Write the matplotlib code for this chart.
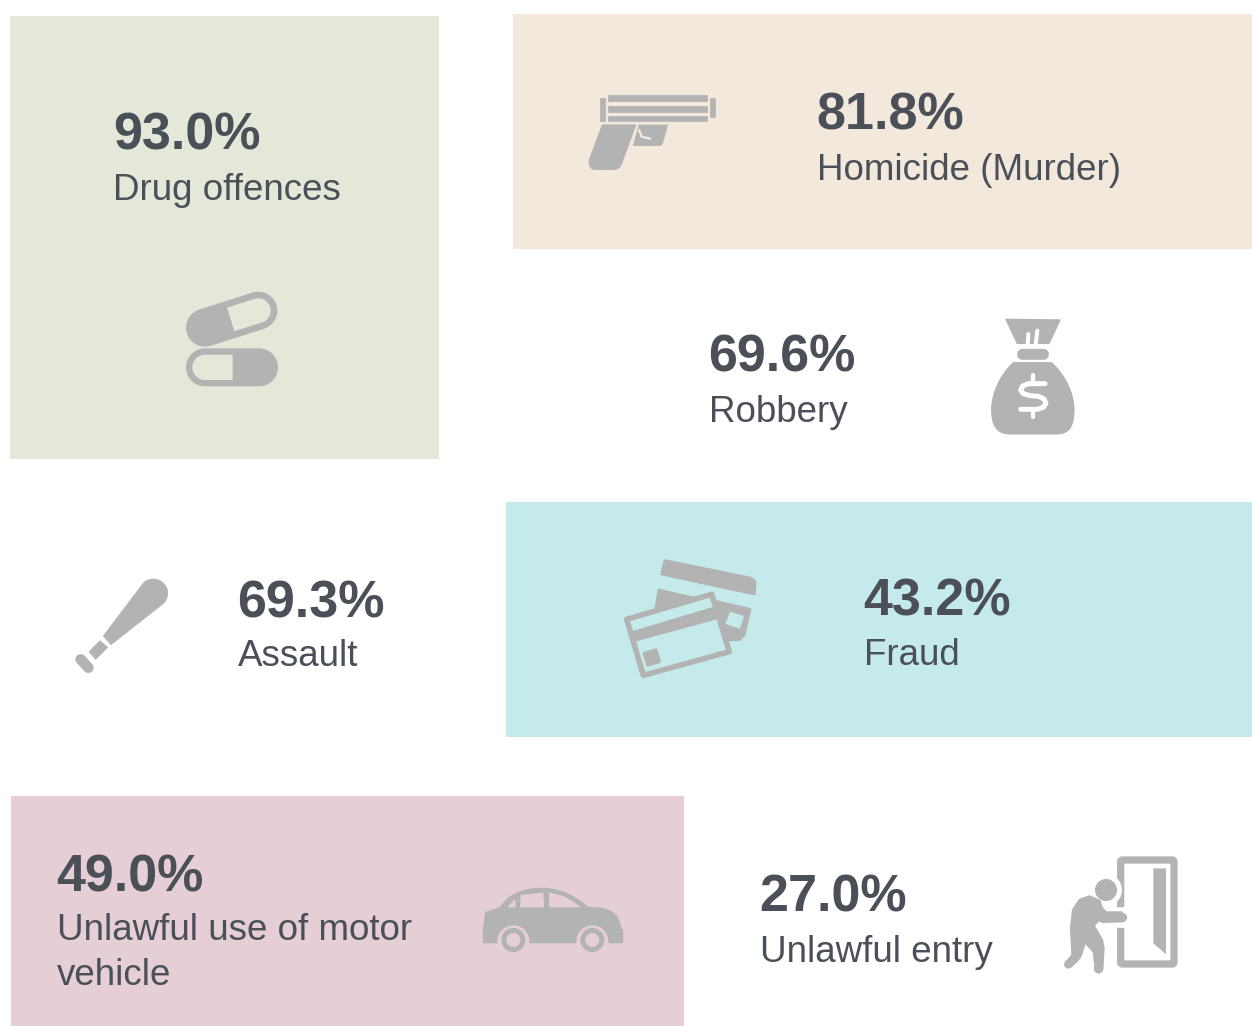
import numpy as np
from matplotlib import pyplot as plt
from matplotlib.patches import Rectangle, Circle, Polygon, PathPatch, FancyBboxPatch
from matplotlib.path import Path

# datos
categorias = ['Drug offences', 'Homicide (Murder)', 'Robbery', 'Assault', 'Fraud',
              'Unlawful use of motor\nvehicle', 'Unlawful entry']
porcentajes = [93.0, 81.8, 69.6, 69.3, 43.2, 49.0, 27.0]

# posicion del texto: x del %, x de la etiqueta, base del %, base de la etiqueta
pct_x = [113, 816, 708, 237, 863, 56, 759]
label_x = [113, 817, 709, 238, 864, 57, 760]
base_pct = [150, 129, 372, 617, 615, 891, 911]
base_label = [200, 180, 422, 666, 665, 940, 962]

# paneles: x0, y0, x1, y1, color
paneles = [(10, 16, 439, 459, '#e4e8d9'),
           (513, 14, 1252, 249, '#f2e8dc'),
           (506, 502, 1252, 737, '#c5eaeb'),
           (11, 796, 684, 1026, '#e5ced5')]

GRIS = '#b3b3b3'
TEXTO = '#4b5058'
VERDE, BEIGE, TEAL, ROSA = [p[4] for p in paneles]

plt.rcParams['font.family'] = ['Liberation Sans', 'DejaVu Sans']
fig = plt.figure(figsize=(12.52, 10.26), dpi=100)
ax = fig.add_axes([0, 0, 1, 1])
ax.set_xlim(0, 1252)
ax.set_ylim(1026, 0)
ax.axis('off')


def Z(origen, pts):
    # las coordenadas de los iconos estan en pixeles de un zoom 3x
    return [(origen[0] + x / 3, origen[1] + y / 3) for x, y in pts]


def poly(origen, pts, color=GRIS, lw=0.0, z=3):
    ax.add_patch(Polygon(Z(origen, pts), closed=True, fc=color, ec=color, lw=lw, joinstyle='round', zorder=z))


def curva(origen, pts, codes, color=GRIS, z=3):
    ax.add_patch(PathPatch(Path(Z(origen, pts), codes), fc=color, ec=color, lw=0.8, joinstyle='round', zorder=z))


def linea(origen, pts, ancho, color=GRIS, z=3):
    p = np.array(Z(origen, pts))
    ax.plot(p[:, 0], p[:, 1], color=color, lw=ancho / 3 * 0.72, solid_capstyle='round',
            solid_joinstyle='round', zorder=z)


def circulo(origen, x, y, r, color=GRIS, z=3):
    ax.add_patch(Circle(Z(origen, [(x, y)])[0], r / 3, fc=color, ec='none', zorder=z))


def capsula(origen, a, b, r, redondo_a=True, redondo_b=True, color=GRIS, z=3):
    a, b = np.array(a, float), np.array(b, float)
    ang = np.arctan2(*(b - a)[::-1])
    pts = []
    t = np.linspace(ang - np.pi / 2, ang + np.pi / 2, 30 if redondo_b else 2)
    pts += [tuple(b + r * np.array([np.cos(v), np.sin(v)])) for v in t]
    t = np.linspace(ang + np.pi / 2, ang + 3 * np.pi / 2, 30 if redondo_a else 2)
    pts += [tuple(a + r * np.array([np.cos(v), np.sin(v)])) for v in t]
    poly(origen, pts, color, z=z)


def pistola():
    o = (570, 80)
    poly(o, [(115, 45), (410, 45), (410, 62), (115, 62)], lw=0.5)
    poly(o, [(115, 77), (410, 77), (410, 95), (115, 95)], lw=0.5)
    poly(o, [(115, 108), (410, 108), (410, 122), (115, 122)], lw=0.5)
    poly(o, [(90, 55), (105, 55), (105, 122), (90, 122)], lw=0.5)
    poly(o, [(420, 55), (435, 55), (435, 112), (420, 112)], lw=0.5)
    L, Q = Path.LINETO, Path.CURVE3
    curva(o, [(97, 135), (197, 135), (155, 250), (150, 268), (130, 268), (75, 268), (55, 268), (58, 240), (97, 135), (97, 135)],
          [Path.MOVETO, L, L, Q, Q, L, Q, Q, L, Path.CLOSEPOLY])
    poly(o, [(207, 135), (293, 135), (277, 192), (270, 197), (190, 197)], lw=0.5)
    linea(o, [(207, 150), (215, 170), (240, 176)], 7, BEIGE, z=4)


def pastillas():
    o = (170, 280)
    capsula(o, (105, 143), (265, 92), 57)
    capsula(o, (182, 118), (265, 92), 37, redondo_a=False, color=VERDE, z=4)
    capsula(o, (105, 262), (267, 262), 57)
    capsula(o, (188, 262), (105, 262), 38, redondo_a=False, color=VERDE, z=4)


def bolsa():
    o = (980, 310)
    poly(o, [(78, 28), (240, 30), (207, 100), (112, 100)], lw=1)
    linea(o, [(143, 104), (145, 72)], 12, 'white', z=4)
    linea(o, [(167, 104), (172, 62)], 12, 'white', z=4)
    ax.add_patch(FancyBboxPatch((980 + 118 / 3, 310 + 123 / 3), 82 / 3, 20 / 3, boxstyle='round,pad=0,rounding_size=3',
                                fc=GRIS, ec=GRIS, lw=3, zorder=3))
    M, C = Path.MOVETO, Path.CURVE4
    curva(o, [(100, 158), (60, 195), (35, 250), (35, 300), (35, 345), (50, 372), (90, 372), (230, 372), (270, 372), (282, 345), (282, 300),
              (282, 250), (255, 195), (215, 158), (100, 158)],
          [M, C, C, C, C, C, C, Path.LINETO, C, C, C, C, C, C, Path.CLOSEPOLY])
    # signo de dolar dibujado con trazos, como en el icono
    linea(o, [(195, 221), (145, 221), (128, 228), (122, 240), (130, 251), (150, 257), (175, 259), (192, 267), (198, 280),
              (190, 292), (172, 298), (122, 298)], 15, 'white', z=5)
    linea(o, [(160, 195), (160, 215)], 13, 'white', z=5)
    linea(o, [(160, 300), (160, 320)], 13, 'white', z=5)


def bate():
    o = (65, 570)
    t = np.linspace(-np.pi * 0.75, np.pi * 0.25, 30)
    arco = [(265 + 43 * np.cos(v), 70 + 43 * np.sin(v)) for v in t]
    poly(o, [(115, 198)] + arco + [(138, 224)], lw=0.5)
    poly(o, [(105, 212), (128, 232), (92, 268), (72, 245)], lw=0.5)
    linea(o, [(47, 268), (70, 293)], 32)


def tarjetas():
    o = (610, 550)
    poly(o, [(165, 32), (425, 85), (435, 95), (433, 132), (155, 72)], lw=2)
    poly(o, [(145, 118), (255, 143), (135, 178)], lw=1)
    poly(o, [(322, 155), (420, 178), (402, 255), (390, 268), (355, 270)], lw=2)
    poly(o, [(360, 185), (402, 198), (390, 236), (346, 222)], color=TEAL, z=4)
    ax.add_patch(Polygon(Z(o, [(50, 208), (305, 133), (358, 305), (100, 376)]), closed=True, fc=TEAL, ec=GRIS, lw=4,
                         joinstyle='round', zorder=5))
    poly(o, [(62, 245), (318, 168), (332, 205), (75, 275)], z=6)
    poly(o, [(102, 310), (138, 299), (149, 335), (113, 346)], z=6, lw=2)


def carro():
    o = (475, 875)
    L, C = Path.LINETO, Path.CURVE4
    curva(o, [(25, 203), (25, 165), (32, 112), (75, 98), (100, 60), (140, 40), (200, 40), (270, 40), (310, 75), (340, 97),
              (395, 98), (432, 108), (437, 160), (443, 165), (443, 203), (25, 203)],
          [Path.MOVETO, L, L, L, C, C, C, C, C, C, C, C, C, L, L, Path.CLOSEPOLY])
    for cx in (115, 352):
        circulo(o, cx, 199, 48, ROSA, z=4)
        circulo(o, cx, 195, 36, GRIS, z=5)
        circulo(o, cx, 195, 21, ROSA, z=6)
    poly(o, [(97, 97), (120, 72), (122, 97)], ROSA, 0, 4)
    poly(o, [(135, 97), (137, 60), (205, 53), (207, 97)], ROSA, 0, 4)
    poly(o, [(222, 52), (270, 65), (320, 97), (222, 97)], ROSA, 0, 4)


def puerta():
    o = (1050, 845)
    ax.add_patch(FancyBboxPatch((1050 + 212 / 3, 845 + 45 / 3), 160 / 3, 312 / 3, boxstyle='round,pad=0,rounding_size=2',
                                fc='white', ec=GRIS, lw=5.2, zorder=3))
    poly(o, [(310, 70), (348, 70), (348, 328), (310, 295)], z=4)
    # hueco de la puerta donde pasa el hombre
    circulo(o, 168, 135, 48, 'white', z=5)
    linea(o, [(205, 215), (222, 215)], 62, 'white', z=5)
    circulo(o, 168, 135, 33, z=6)
    poly(o, [(118, 155), (148, 168), (155, 190), (168, 203), (215, 203), (215, 228), (160, 230), (145, 225),
             (130, 242), (155, 285), (160, 310), (155, 375), (138, 375), (132, 320), (105, 290), (90, 335), (60, 365),
             (52, 352), (68, 330), (64, 250), (70, 195), (90, 165)], lw=2, z=6)
    # puntas redondas de brazo y pies
    linea(o, [(205, 215), (215, 215)], 28, z=6)
    linea(o, [(75, 340), (55, 358)], 26, z=6)
    linea(o, [(147, 340), (146, 372)], 28, z=6)


for x0, y0, x1, y1, color in paneles:
    ax.add_patch(Rectangle((x0, y0), x1 - x0, y1 - y0, fc=color, ec='none', zorder=1))

for cat, pct, xp, xl, yp, yl in zip(categorias, porcentajes, pct_x, label_x, base_pct, base_label):
    ax.text(xp, yp, f'{pct:.1f}%', color=TEXTO, fontsize=37.5, fontweight='bold', va='baseline', ha='left', zorder=7)
    for i, linea_txt in enumerate(cat.split('\n')):
        ax.text(xl, yl + i * 45, linea_txt, color=TEXTO, fontsize=26.5, va='baseline', ha='left', zorder=7)

pistola()
pastillas()
bolsa()
bate()
tarjetas()
carro()
puerta()

fig.savefig('out.png', dpi=100)
